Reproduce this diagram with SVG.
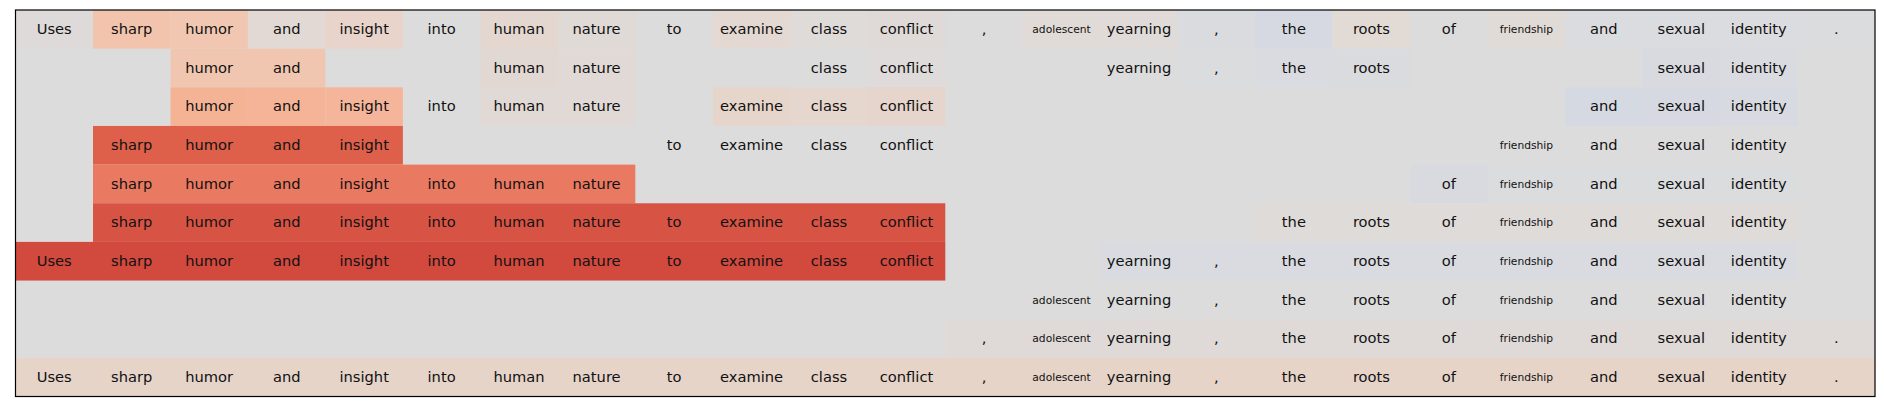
<svg xmlns="http://www.w3.org/2000/svg" width="1884" height="412" viewBox="0 0 1884 412">
<style>
text{font-family:"DejaVu Sans","Liberation Sans",sans-serif;font-size:14.67px;fill:#111;text-anchor:middle}
text.s{font-size:10.7px}
</style>
<rect width="1884" height="412" fill="#ffffff"/>
<rect x="15.5" y="10" width="1859.5" height="386.5" fill="#dddcdc"/>
<g id="row0">
<rect x="15.5" y="10" width="77.5" height="38.65" fill="#dedad9"/>
<rect x="93" y="10" width="77.5" height="38.65" fill="#f3c4ad"/>
<rect x="170.5" y="10" width="77.4" height="38.65" fill="#f1c7b2"/>
<rect x="247.9" y="10" width="77.5" height="38.65" fill="#e3d9d4"/>
<rect x="325.4" y="10" width="77.5" height="38.65" fill="#e8d4ca"/>
<rect x="480.4" y="10" width="77.5" height="38.65" fill="#e4d7d0"/>
<rect x="557.9" y="10" width="77.4" height="38.65" fill="#e0dad7"/>
<rect x="712.8" y="10" width="77.5" height="38.65" fill="#e4d8d2"/>
<rect x="790.3" y="10" width="77.5" height="38.65" fill="#dfdbd9"/>
<rect x="867.8" y="10" width="77.5" height="38.65" fill="#dfdad8"/>
<rect x="1022.7" y="10" width="77.5" height="38.65" fill="#e1dbd7"/>
<rect x="1100.2" y="10" width="77.5" height="38.65" fill="#e0dbd8"/>
<rect x="1177.7" y="10" width="77.5" height="38.65" fill="#dadbdf"/>
<rect x="1255.2" y="10" width="77.5" height="38.65" fill="#d6d9e1"/>
<rect x="1332.7" y="10" width="77.4" height="38.65" fill="#e2dad5"/>
<rect x="1487.6" y="10" width="77.5" height="38.65" fill="#e1dbd7"/>
<rect x="1565.1" y="10" width="232.4" height="38.65" fill="#dbdcdf"/>
<rect x="1797.5" y="10" width="77.5" height="38.65" fill="#dbdcdd"/>
<text x="54.2" y="34">Uses</text><text x="131.7" y="34">sharp</text><text x="209.2" y="34">humor</text><text x="286.7" y="34">and</text><text x="364.2" y="34">insight</text><text x="441.6" y="34">into</text><text x="519.1" y="34">human</text><text x="596.6" y="34">nature</text><text x="674.1" y="34">to</text><text x="751.6" y="34">examine</text><text x="829" y="34">class</text><text x="906.5" y="34">conflict</text><text x="984" y="34">,</text><text class="s" x="1061.5" y="33.2">adolescent</text><text x="1139" y="34">yearning</text><text x="1216.4" y="34">,</text><text x="1293.9" y="34">the</text><text x="1371.4" y="34">roots</text><text x="1448.9" y="34">of</text><text class="s" x="1526.4" y="33.2">friendship</text><text x="1603.8" y="34">and</text><text x="1681.3" y="34">sexual</text><text x="1758.8" y="34">identity</text><text x="1836.3" y="34">.</text>
</g>
<g id="row1">
<rect x="170.5" y="48.65" width="154.9" height="38.65" fill="#f1c6b0"/>
<rect x="480.4" y="48.65" width="77.5" height="38.65" fill="#e2d8d3"/>
<rect x="557.9" y="48.65" width="77.4" height="38.65" fill="#e0d9d5"/>
<rect x="867.8" y="48.65" width="77.5" height="38.65" fill="#dedbda"/>
<rect x="1177.7" y="48.65" width="77.5" height="38.65" fill="#dbdcde"/>
<rect x="1255.2" y="48.65" width="77.5" height="38.65" fill="#d9dbe0"/>
<rect x="1332.7" y="48.65" width="77.4" height="38.65" fill="#dadbdf"/>
<rect x="1642.6" y="48.65" width="77.5" height="38.65" fill="#d8dae0"/>
<rect x="1720.1" y="48.65" width="77.4" height="38.65" fill="#d9dbe0"/>
<text x="209.2" y="72.65">humor</text><text x="286.7" y="72.65">and</text><text x="519.1" y="72.65">human</text><text x="596.6" y="72.65">nature</text><text x="829" y="72.65">class</text><text x="906.5" y="72.65">conflict</text><text x="1139" y="72.65">yearning</text><text x="1216.4" y="72.65">,</text><text x="1293.9" y="72.65">the</text><text x="1371.4" y="72.65">roots</text><text x="1681.3" y="72.65">sexual</text><text x="1758.8" y="72.65">identity</text>
</g>
<g id="row2">
<rect x="170.5" y="87.3" width="77.4" height="38.65" fill="#f5b396"/>
<rect x="247.9" y="87.3" width="77.5" height="38.65" fill="#f5b497"/>
<rect x="325.4" y="87.3" width="77.5" height="38.65" fill="#f5b59a"/>
<rect x="480.4" y="87.3" width="77.5" height="38.65" fill="#e1d9d5"/>
<rect x="557.9" y="87.3" width="77.4" height="38.65" fill="#e0d9d6"/>
<rect x="712.8" y="87.3" width="77.5" height="38.65" fill="#e6d5cb"/>
<rect x="790.3" y="87.3" width="77.5" height="38.65" fill="#e5d6ce"/>
<rect x="867.8" y="87.3" width="77.5" height="38.65" fill="#e6d5cc"/>
<rect x="1565.1" y="87.3" width="77.5" height="38.65" fill="#d5d9e2"/>
<rect x="1642.6" y="87.3" width="77.5" height="38.65" fill="#d6d9e1"/>
<rect x="1720.1" y="87.3" width="77.4" height="38.65" fill="#d7dae1"/>
<text x="209.2" y="111.3">humor</text><text x="286.7" y="111.3">and</text><text x="364.2" y="111.3">insight</text><text x="441.6" y="111.3">into</text><text x="519.1" y="111.3">human</text><text x="596.6" y="111.3">nature</text><text x="751.6" y="111.3">examine</text><text x="829" y="111.3">class</text><text x="906.5" y="111.3">conflict</text><text x="1603.8" y="111.3">and</text><text x="1681.3" y="111.3">sexual</text><text x="1758.8" y="111.3">identity</text>
</g>
<g id="row3">
<rect x="93" y="125.95" width="309.9" height="38.65" fill="#de604b"/>
<rect x="1487.6" y="125.95" width="309.9" height="38.65" fill="#dcdcdd"/>
<text x="131.7" y="149.95">sharp</text><text x="209.2" y="149.95">humor</text><text x="286.7" y="149.95">and</text><text x="364.2" y="149.95">insight</text><text x="674.1" y="149.95">to</text><text x="751.6" y="149.95">examine</text><text x="829" y="149.95">class</text><text x="906.5" y="149.95">conflict</text><text class="s" x="1526.4" y="149.15">friendship</text><text x="1603.8" y="149.95">and</text><text x="1681.3" y="149.95">sexual</text><text x="1758.8" y="149.95">identity</text>
</g>
<g id="row4">
<rect x="93" y="164.6" width="542.3" height="38.65" fill="#e97a61"/>
<rect x="1410.1" y="164.6" width="77.5" height="38.65" fill="#d9dadf"/>
<rect x="1487.6" y="164.6" width="309.9" height="38.65" fill="#dbdcde"/>
<text x="131.7" y="188.6">sharp</text><text x="209.2" y="188.6">humor</text><text x="286.7" y="188.6">and</text><text x="364.2" y="188.6">insight</text><text x="441.6" y="188.6">into</text><text x="519.1" y="188.6">human</text><text x="596.6" y="188.6">nature</text><text x="1448.9" y="188.6">of</text><text class="s" x="1526.4" y="187.8">friendship</text><text x="1603.8" y="188.6">and</text><text x="1681.3" y="188.6">sexual</text><text x="1758.8" y="188.6">identity</text>
</g>
<g id="row5">
<rect x="93" y="203.25" width="852.3" height="38.65" fill="#d75445"/>
<rect x="1255.2" y="203.25" width="542.3" height="38.65" fill="#dfdbd9"/>
<text x="131.7" y="227.25">sharp</text><text x="209.2" y="227.25">humor</text><text x="286.7" y="227.25">and</text><text x="364.2" y="227.25">insight</text><text x="441.6" y="227.25">into</text><text x="519.1" y="227.25">human</text><text x="596.6" y="227.25">nature</text><text x="674.1" y="227.25">to</text><text x="751.6" y="227.25">examine</text><text x="829" y="227.25">class</text><text x="906.5" y="227.25">conflict</text><text x="1293.9" y="227.25">the</text><text x="1371.4" y="227.25">roots</text><text x="1448.9" y="227.25">of</text><text class="s" x="1526.4" y="226.45">friendship</text><text x="1603.8" y="227.25">and</text><text x="1681.3" y="227.25">sexual</text><text x="1758.8" y="227.25">identity</text>
</g>
<g id="row6">
<rect x="15.5" y="241.9" width="929.8" height="38.65" fill="#d2493e"/>
<rect x="1100.2" y="241.9" width="697.3" height="38.65" fill="#d9dbe0"/>
<text x="54.2" y="265.9">Uses</text><text x="131.7" y="265.9">sharp</text><text x="209.2" y="265.9">humor</text><text x="286.7" y="265.9">and</text><text x="364.2" y="265.9">insight</text><text x="441.6" y="265.9">into</text><text x="519.1" y="265.9">human</text><text x="596.6" y="265.9">nature</text><text x="674.1" y="265.9">to</text><text x="751.6" y="265.9">examine</text><text x="829" y="265.9">class</text><text x="906.5" y="265.9">conflict</text><text x="1139" y="265.9">yearning</text><text x="1216.4" y="265.9">,</text><text x="1293.9" y="265.9">the</text><text x="1371.4" y="265.9">roots</text><text x="1448.9" y="265.9">of</text><text class="s" x="1526.4" y="265.1">friendship</text><text x="1603.8" y="265.9">and</text><text x="1681.3" y="265.9">sexual</text><text x="1758.8" y="265.9">identity</text>
</g>
<g id="row7">
<rect x="1022.7" y="280.55" width="774.8" height="38.65" fill="#dcdcdc"/>
<text class="s" x="1061.5" y="303.75">adolescent</text><text x="1139" y="304.55">yearning</text><text x="1216.4" y="304.55">,</text><text x="1293.9" y="304.55">the</text><text x="1371.4" y="304.55">roots</text><text x="1448.9" y="304.55">of</text><text class="s" x="1526.4" y="303.75">friendship</text><text x="1603.8" y="304.55">and</text><text x="1681.3" y="304.55">sexual</text><text x="1758.8" y="304.55">identity</text>
</g>
<g id="row8">
<rect x="945.3" y="319.2" width="929.7" height="38.65" fill="#dfdad8"/>
<text x="984" y="343.2">,</text><text class="s" x="1061.5" y="342.4">adolescent</text><text x="1139" y="343.2">yearning</text><text x="1216.4" y="343.2">,</text><text x="1293.9" y="343.2">the</text><text x="1371.4" y="343.2">roots</text><text x="1448.9" y="343.2">of</text><text class="s" x="1526.4" y="342.4">friendship</text><text x="1603.8" y="343.2">and</text><text x="1681.3" y="343.2">sexual</text><text x="1758.8" y="343.2">identity</text><text x="1836.3" y="343.2">.</text>
</g>
<g id="row9">
<rect x="15.5" y="357.85" width="1859.5" height="38.65" fill="#e6d4c9"/>
<text x="54.2" y="381.85">Uses</text><text x="131.7" y="381.85">sharp</text><text x="209.2" y="381.85">humor</text><text x="286.7" y="381.85">and</text><text x="364.2" y="381.85">insight</text><text x="441.6" y="381.85">into</text><text x="519.1" y="381.85">human</text><text x="596.6" y="381.85">nature</text><text x="674.1" y="381.85">to</text><text x="751.6" y="381.85">examine</text><text x="829" y="381.85">class</text><text x="906.5" y="381.85">conflict</text><text x="984" y="381.85">,</text><text class="s" x="1061.5" y="381.05">adolescent</text><text x="1139" y="381.85">yearning</text><text x="1216.4" y="381.85">,</text><text x="1293.9" y="381.85">the</text><text x="1371.4" y="381.85">roots</text><text x="1448.9" y="381.85">of</text><text class="s" x="1526.4" y="381.05">friendship</text><text x="1603.8" y="381.85">and</text><text x="1681.3" y="381.85">sexual</text><text x="1758.8" y="381.85">identity</text><text x="1836.3" y="381.85">.</text>
</g>
<g id="connectors"></g>
<rect x="15.5" y="10" width="1859.5" height="386.5" fill="none" stroke="#000" stroke-width="1.2"/>
</svg>
